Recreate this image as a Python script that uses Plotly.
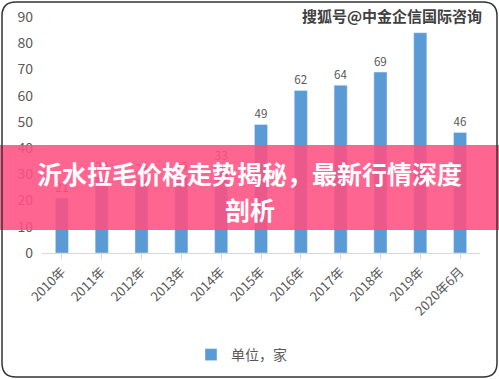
import plotly.graph_objects as go

categories = ["2010年", "2011年", "2012年", "2013年", "2014年", "2015年",
              "2016年", "2017年", "2018年", "2019年", "2020年6月"]
values = [21, 29, 28, 29, 33, 49, 62, 64, 69, 84, 46]
y_ticks = [0, 10, 20, 30, 40, 50, 60, 70, 80, 90]
series_name = "单位，家"
title_lines = ["沂水拉毛价格走势揭秘，最新行情深度", "剖析"]
watermark = "搜狐号@中金企信国际咨询"

W, H = 499, 379
FONT = "Noto Sans CJK SC, Noto Sans, sans-serif"

fig = go.Figure()
fig.add_trace(go.Bar(
    x=categories, y=values, name=series_name,
    marker_color="#5b9bd5",
    text=values, textposition="outside",
    textfont=dict(size=14, color="#595959"),
    cliponaxis=False,
))

def px(x):
    return x / W

def py(y):
    return (H - y) / H

# rounded border path
x0, x1, y0, y1, r = 2, 497, 2, 377, 14
path = (f"M{px(x0 + r)},{py(y0)} L{px(x1 - r)},{py(y0)} Q{px(x1)},{py(y0)} {px(x1)},{py(y0 + r)} "
        f"L{px(x1)},{py(y1 - r)} Q{px(x1)},{py(y1)} {px(x1 - r)},{py(y1)} "
        f"L{px(x0 + r)},{py(y1)} Q{px(x0)},{py(y1)} {px(x0)},{py(y1 - r)} "
        f"L{px(x0)},{py(y0 + r)} Q{px(x0)},{py(y0)} {px(x0 + r)},{py(y0)} Z")

shapes = [
    dict(type="rect", xref="paper", yref="paper", x0=0, x1=1,
         y0=py(230), y1=py(145), fillcolor="rgba(255,80,130,0.88)",
         line=dict(width=0), layer="above"),
    dict(type="path", xref="paper", yref="paper", path=path,
         line=dict(color="#333333", width=1.5), layer="above"),
]

annotations = [
    dict(text="<b>" + title_lines[0] + "</b>", x=0.5, y=py(173), xref="paper", yref="paper",
         showarrow=False, font=dict(size=25, color="white", family=FONT),
         xanchor="center", yanchor="middle"),
    dict(text="<b>" + title_lines[1] + "</b>", x=0.5, y=py(209), xref="paper", yref="paper",
         showarrow=False, font=dict(size=25, color="white", family=FONT),
         xanchor="center", yanchor="middle"),
    dict(text="<b>" + watermark + "</b>", x=px(484), y=py(15), xref="paper", yref="paper",
         showarrow=False, font=dict(size=15, color="#404040", family=FONT),
         xanchor="right", yanchor="middle", bgcolor="white"),
]

fig.update_layout(
    width=W, height=H,
    margin=dict(l=0, r=0, t=0, b=0, autoexpand=False),
    paper_bgcolor="white", plot_bgcolor="white",
    font=dict(family=FONT, color="#595959"),
    bargap=0.67,
    showlegend=True,
    legend=dict(orientation="h", x=0.5 - 8 / W, xanchor="center", y=py(355), yanchor="middle",
                font=dict(size=14, color="#595959")),
    xaxis=dict(domain=[px(42), px(480)], tickangle=-45, showline=True, automargin=False,
               linecolor="#d9d9d9", ticks="outside", tickcolor="#d9d9d9", ticklen=5,
               tickfont=dict(size=13, color="#595959")),
    yaxis=dict(domain=[py(253), py(17)], range=[0, 90], tickvals=y_ticks, automargin=False,
               showgrid=False, zeroline=False, showline=False,
               tickfont=dict(size=14, color="#595959"), ticklabelstandoff=8),
    shapes=shapes,
    annotations=annotations,
)

fig.write_html("out.html", config={"displayModeBar": False},
               post_script="document.body.style.margin='0px';")
